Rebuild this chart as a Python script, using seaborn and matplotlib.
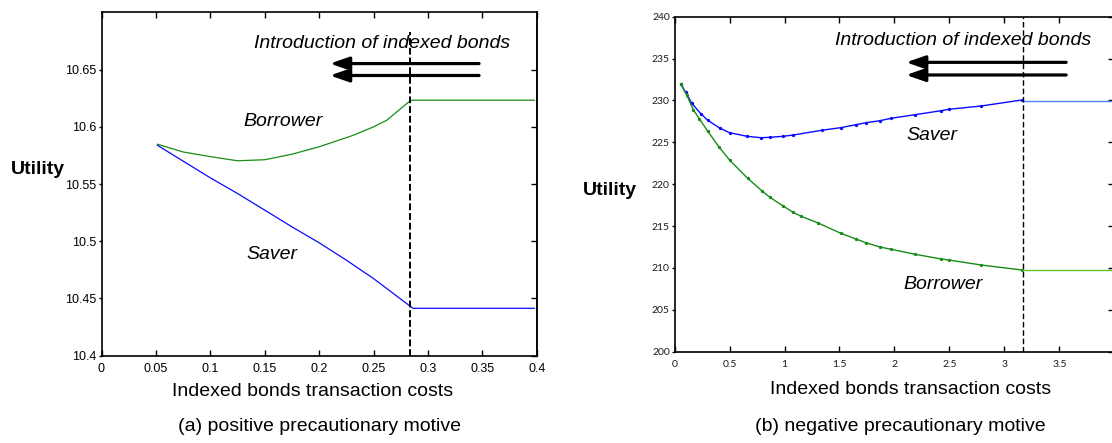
import matplotlib
matplotlib.use("Agg")
import matplotlib.pyplot as plt
import seaborn as sns

# ---------------- Panel (a): positive precautionary motive ----------------
a_cost_borrower = [0.0513, 0.075, 0.1, 0.125, 0.15, 0.175, 0.2, 0.2315, 0.25, 0.2622, 0.2835, 0.2865, 0.398]
a_borrower = [10.5848, 10.578, 10.5739, 10.5703, 10.5712, 10.576, 10.5825, 10.5926, 10.5999, 10.6057, 10.6226, 10.6232, 10.6232]
a_cost_saver = [0.0513, 0.075, 0.1, 0.125, 0.15, 0.175, 0.2, 0.225, 0.25, 0.2835, 0.2865, 0.398]
a_saver = [10.5839, 10.570, 10.5554, 10.5417, 10.5272, 10.5126, 10.4987, 10.4835, 10.4674, 10.4434, 10.4414, 10.4414]
a_cutoff = 0.2835
a_cutoff_top = 10.683
a_xticks = [0, 0.05, 0.1, 0.15, 0.2, 0.25, 0.3, 0.35, 0.4]
a_xticklabels = ["0", "0.05", "0.1", "0.15", "0.2", "0.25", "0.3", "0.35", "0.4"]
a_yticks = [10.4, 10.45, 10.5, 10.55, 10.6, 10.65]
a_yticklabels = ["10.4", "10.45", "10.5", "10.55", "10.6", "10.65"]
a_arrow_x = (0.347, 0.21)
a_arrow_y = [10.6552, 10.6448]

# ---------------- Panel (b): negative precautionary motive ----------------
b_cost_saver = [0.058, 0.101, 0.156, 0.241, 0.302, 0.409, 0.5, 0.659, 0.787, 0.866, 0.988, 1.079,
                1.338, 1.512, 1.649, 1.74, 1.868, 1.969, 2.188, 2.426, 2.493, 2.79, 3.157]
b_saver = [231.93, 230.97, 229.66, 228.38, 227.63, 226.71, 226.15, 225.72, 225.55, 225.60, 225.72, 225.87,
           226.44, 226.75, 227.10, 227.34, 227.58, 227.87, 228.30, 228.78, 228.94, 229.34, 230.05]
b_cost_borrower = [0.058, 0.11, 0.171, 0.226, 0.302, 0.406, 0.5, 0.665, 0.796, 0.866, 0.988, 1.079, 1.146,
                   1.3, 1.512, 1.649, 1.74, 1.868, 1.969, 2.188, 2.426, 2.493, 2.79, 3.157]
b_borrower = [231.93, 230.65, 228.86, 227.79, 226.32, 224.41, 222.89, 220.70, 219.19, 218.44, 217.40, 216.64, 216.20,
              215.40, 214.14, 213.46, 213.01, 212.50, 212.23, 211.63, 211.07, 210.95, 210.35, 209.76]
b_cost_flat = [3.17, 4.0]
b_saver_flat = [229.93, 229.93]
b_borrower_flat = [209.76, 209.76]
b_cutoff = 3.17
b_xticks = [0, 0.5, 1, 1.5, 2, 2.5, 3, 3.5]
b_xticklabels = ["0", "0.5", "1", "1.5", "2", "2.5", "3", "3.5"]
b_yticks = [200, 205, 210, 215, 220, 225, 230, 235, 240]
b_yticklabels = ["200", "205", "210", "215", "220", "225", "230", "235", "240"]
b_arrow_x = (3.562, 2.106)
b_arrow_y = [234.55, 233.04]

sns.set_theme(style="white")
plt.rcParams['font.family'] = ['Liberation Sans', 'DejaVu Sans']
plt.rcParams['text.color'] = 'black'
plt.rcParams['axes.labelcolor'] = 'black'
plt.rcParams['xtick.color'] = 'black'
plt.rcParams['ytick.color'] = 'black'

W, H = 1112, 443
fig = plt.figure(figsize=(W / 100, H / 100), dpi=100)
axA = fig.add_axes([101.5 / W, 1 - 355.7 / H, (536.7 - 101.5) / W, (355.7 - 12.3) / H])
axB = fig.add_axes([674.6 / W, 1 - 351.7 / H, (1114.3 - 674.6) / W, (351.7 - 16.7) / H])

GREEN = "#178c17"
BLUE = "#0a0aff"

# ----- panel (a)
sns.lineplot(x=a_cost_borrower, y=a_borrower, ax=axA, color=GREEN, lw=0.9, estimator=None, sort=False)
sns.lineplot(x=a_cost_saver, y=a_saver, ax=axA, color=BLUE, lw=0.9, estimator=None, sort=False)
axA.plot([a_cutoff, a_cutoff], [10.4, a_cutoff_top], color="black", lw=1.4, ls=(0, (3.5, 1.5)))
axA.set_xlim(0, 0.4)
axA.set_ylim(10.4, 10.7)

# ----- panel (b)
sns.lineplot(x=b_cost_saver, y=b_saver, ax=axB, color=BLUE, lw=1.0, estimator=None, sort=False,
             marker="o", markersize=2.4, markeredgewidth=0)
sns.lineplot(x=b_cost_borrower, y=b_borrower, ax=axB, color=GREEN, lw=1.0, estimator=None, sort=False,
             marker="o", markersize=2.4, markeredgewidth=0)
sns.lineplot(x=b_cost_flat, y=b_saver_flat, ax=axB, color="#4a86ff", lw=1.0, estimator=None, sort=False)
sns.lineplot(x=b_cost_flat, y=b_borrower_flat, ax=axB, color="#5cc42e", lw=1.0, estimator=None, sort=False)
axB.axvline(b_cutoff, color="black", lw=1.0, ls=(0, (4, 2)))
axB.set_xlim(0, 4)
axB.set_ylim(200, 240)

for ax, xt, xtl, yt, ytl, xpad in [(axA, a_xticks, a_xticklabels, a_yticks, a_yticklabels, 5),
                                    (axB, b_xticks, b_xticklabels, b_yticks, b_yticklabels, 6)]:
    ax.set_xticks(xt)
    ax.set_xticklabels(xtl)
    ax.set_yticks(yt)
    ax.set_yticklabels(ytl)
    ax.tick_params(axis='x', direction='in', length=4, width=1, top=True, bottom=True,
                   pad=xpad, colors="black")
    ax.tick_params(axis='y', direction='out', length=2.5, width=1, left=True, right=False, pad=1,
                   colors="black")
    sec = ax.secondary_yaxis('right')
    sec.set_yticks(yt)
    sec.tick_params(direction='in', length=4, width=1, labelright=False, colors="black")
    sec.spines['right'].set_linewidth(1.2)
    for s in ax.spines.values():
        s.set_linewidth(1.2)
        s.set_color("black")
    ax.set_xlabel("")
    ax.set_ylabel("")
    ax.grid(False)

for lbl in axA.get_xticklabels() + axA.get_yticklabels():
    lbl.set_fontsize(9)
    lbl.set_color("black")
for lbl in axB.get_xticklabels() + axB.get_yticklabels():
    lbl.set_fontfamily(['Lato', 'DejaVu Sans'])
    lbl.set_fontsize(7.5)
    lbl.set_color("#1a1a1a")

# ----- arrows
arrow_kw = dict(arrowstyle="-|>,head_length=0.95,head_width=0.33", lw=2.3, color="black",
                shrinkA=0, shrinkB=0)
for ax, ax_x, ax_y in [(axA, a_arrow_x, a_arrow_y), (axB, b_arrow_x, b_arrow_y)]:
    for yy in ax_y:
        ax.annotate("", xy=(ax_x[1], yy), xytext=(ax_x[0], yy), arrowprops=arrow_kw)

# ----- in-plot texts
axA.text(0.258, 10.673, "Introduction of indexed bonds", style="italic", fontsize=14, ha="center", va="center")
axA.text(0.1668, 10.6043, "Borrower", style="italic", fontsize=14, ha="center", va="center")
axA.text(0.1564, 10.4888, "Saver", style="italic", fontsize=14, ha="center", va="center")
axB.text(2.623, 237.2, "Introduction of indexed bonds", style="italic", fontsize=14, ha="center", va="center")
axB.text(2.339, 225.87, "Saver", style="italic", fontsize=14, ha="center", va="center")
axB.text(2.444, 208.08, "Borrower", style="italic", fontsize=14, ha="center", va="center")

# ----- figure-level labels
fig.text(38 / W, 1 - 170 / H, "Utility", fontsize=14, fontweight="bold", ha="center", va="center")
fig.text(610 / W, 1 - 190 / H, "Utility", fontsize=14, fontweight="bold", ha="center", va="center")
fig.text(313 / W, 1 - 391.7 / H, "Indexed bonds transaction costs", fontsize=14, ha="center", va="center")
fig.text(911 / W, 1 - 390 / H, "Indexed bonds transaction costs", fontsize=14, ha="center", va="center")
fig.text(319 / W, 1 - 426.7 / H, "(a) positive precautionary motive", fontsize=14, ha="center", va="center")
fig.text(900 / W, 1 - 426.7 / H, "(b) negative precautionary motive", fontsize=14, ha="center", va="center")

fig.savefig("out.png", dpi=100, facecolor="white")
